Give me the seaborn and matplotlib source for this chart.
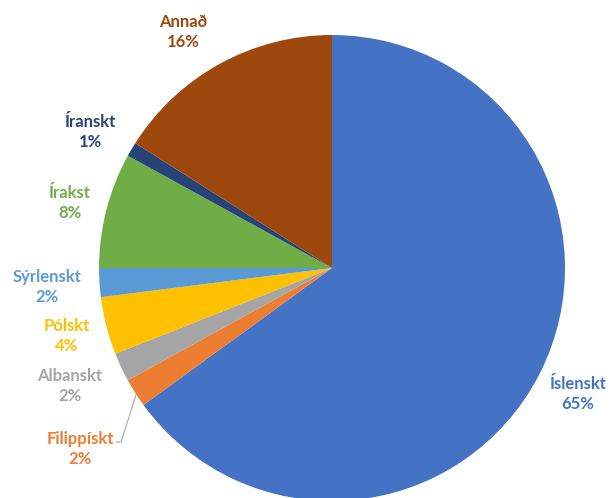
import matplotlib
matplotlib.use("Agg")
import matplotlib.pyplot as plt
import seaborn as sns

# data, clockwise from 12 o'clock
labels = ['Íslenskt', 'Filippískt', 'Albanskt', 'Pólskt', 'Sýrlenskt', 'Írakst', 'Íranskt', 'Annað']
values = [65, 2, 2, 4, 2, 8, 1, 16]
colors = ['#4472C4', '#ED7D31', '#A5A5A5', '#FFC000', '#5B9BD5', '#70AD47', '#264478', '#9E480E']

# label centres in pixels (layout only)
label_px = [(578, 394), (80, 449), (70, 386), (67, 336), (47, 287), (70, 203), (90, 132), (183, 32)]

sns.set_theme(style="white")
plt.rcParams['font.family'] = ['Lato', 'DejaVu Sans']

W, H = 616, 498
cx, cy, r = 332, 268, 233

fig = plt.figure(figsize=(W / 100, H / 100), dpi=100)
ax = fig.add_axes([0, 0, 1, 1])
ax.pie(values, colors=colors, startangle=90, counterclock=False, radius=1,
       wedgeprops=dict(linewidth=0))
ax.set_xlim(-cx / r, (W - cx) / r)
ax.set_ylim(-(H - cy) / r, cy / r)
ax.set_aspect('equal')
ax.axis('off')


def to_data(px, py):
    return (px - cx) / r, (cy - py) / r


for lab, v, col, (px, py) in zip(labels, values, colors, label_px):
    x, y = to_data(px, py)
    ax.text(x, y, f"{lab}\n{v}%", color=col, ha='center', va='center',
            fontsize=12, fontweight='bold', linespacing=1.35)

# leader line for Filippískt
pts = [to_data(116, 442), to_data(121, 442), to_data(136, 395)]
ax.plot([p[0] for p in pts], [p[1] for p in pts], color='#A6A6A6', lw=0.8)

fig.savefig('out.png', dpi=100, facecolor='white')
